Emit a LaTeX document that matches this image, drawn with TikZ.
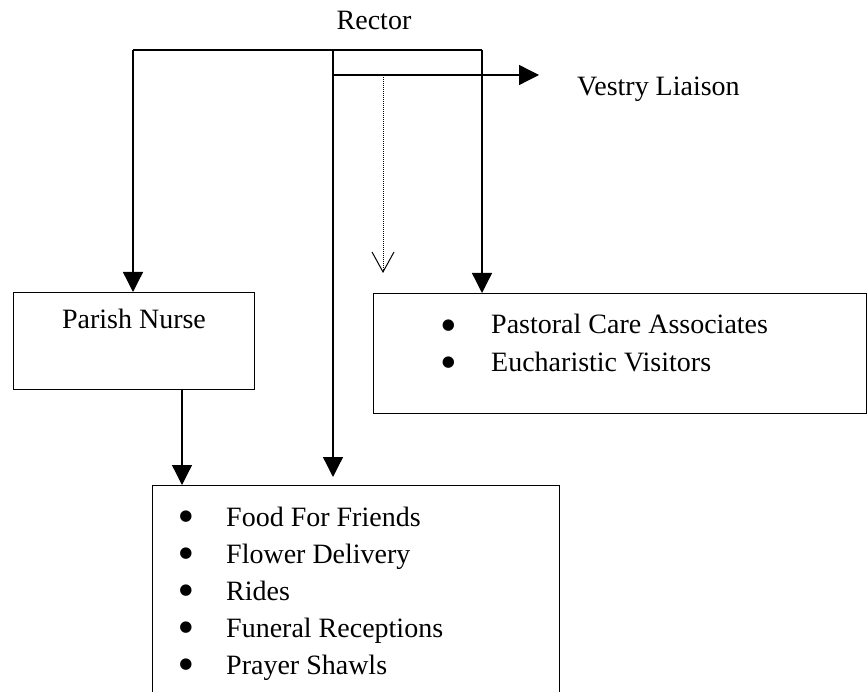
\documentclass[tikz,border=0pt]{standalone}
\usepackage{fontspec}
\setmainfont{Liberation Serif}
\newfontfamily\dejavu{DejaVu Sans}
\usetikzlibrary{arrows.meta}
\tikzset{
  conn/.style={line width=1.3pt, -{Triangle[length=20pt,width=20pt]}},
  plain/.style={line width=1.3pt},
  dotconn/.style={line width=1pt, densely dotted, -{Straight Barb[length=20pt,width=22pt,line width=1pt]}},
  boxst/.style={draw, line width=1.3pt, inner sep=0pt},
  txt/.style={inner sep=0pt, font=\fontsize{28}{37}\selectfont},
  bul/.style={inner sep=0pt, anchor=center, font=\dejavu\fontsize{15}{18}\selectfont},
  item/.style={txt, anchor=base west},
}
\begin{document}
\begin{tikzpicture}[x=1pt,y=-1pt]
\useasboundingbox (0,0) rectangle (867,692);
% boxes
\node[boxst, anchor=north west, minimum width=241pt, minimum height=97pt] (pnbox) at (13,292) {};
\node[boxst, anchor=north west, minimum width=493pt, minimum height=120pt] (pcbox) at (373,293) {};
\node[boxst, anchor=north west, minimum width=407pt, minimum height=230pt] (fbox) at (152,485) {};
% texts
\node[txt, anchor=base] (rector) at (374,30) {Rector};
\node[txt, anchor=base west] (vestry) at (577,96) {Vestry Liaison};
\node[txt, anchor=base] (pn) at (134,329) {Parish Nurse};
% pastoral list
\node[item] (pc1) at (491,334) {Pastoral Care Associates};
\node[item] (pc2) at (491,371) {Eucharistic Visitors};
\node[bul] (pb1) at (448.5,326) {●};
\node[bul] (pb2) at (448.5,363) {●};
% friends list
\node[item] (f1) at (226,526) {Food For Friends};
\node[item] (f2) at (226,563) {Flower Delivery};
\node[item] (f3) at (226,600) {Rides};
\node[item] (f4) at (226,637) {Funeral Receptions};
\node[item] (f5) at (226,674) {Prayer Shawls};
\node[bul] (fb1) at (186,517) {●};
\node[bul] (fb2) at (186,554) {●};
\node[bul] (fb3) at (186,591) {●};
\node[bul] (fb4) at (186,628) {●};
\node[bul] (fb5) at (186,665) {●};
% connector points
\coordinate (tl) at (133,50);
\coordinate (tm) at (333,50);
\coordinate (tr) at (482,50);
\coordinate (hm) at (333,75);
\coordinate (vt) at (539,75);
\coordinate (ds) at (383,75);
\coordinate (dt) at (383,273);
% connectors
\draw[plain] (tl) -- (tr);
\draw[conn] (tl) -- (tl |- pnbox.north);
\draw[conn] (tr) -- (tr |- pcbox.north);
\draw[conn] (tm) -- (333,477);
\draw[conn] (hm) -- (vt);
\draw[dotconn] (ds) -- (dt);
\draw[conn] (182,389) -- (182,485);
\end{tikzpicture}
\end{document}
